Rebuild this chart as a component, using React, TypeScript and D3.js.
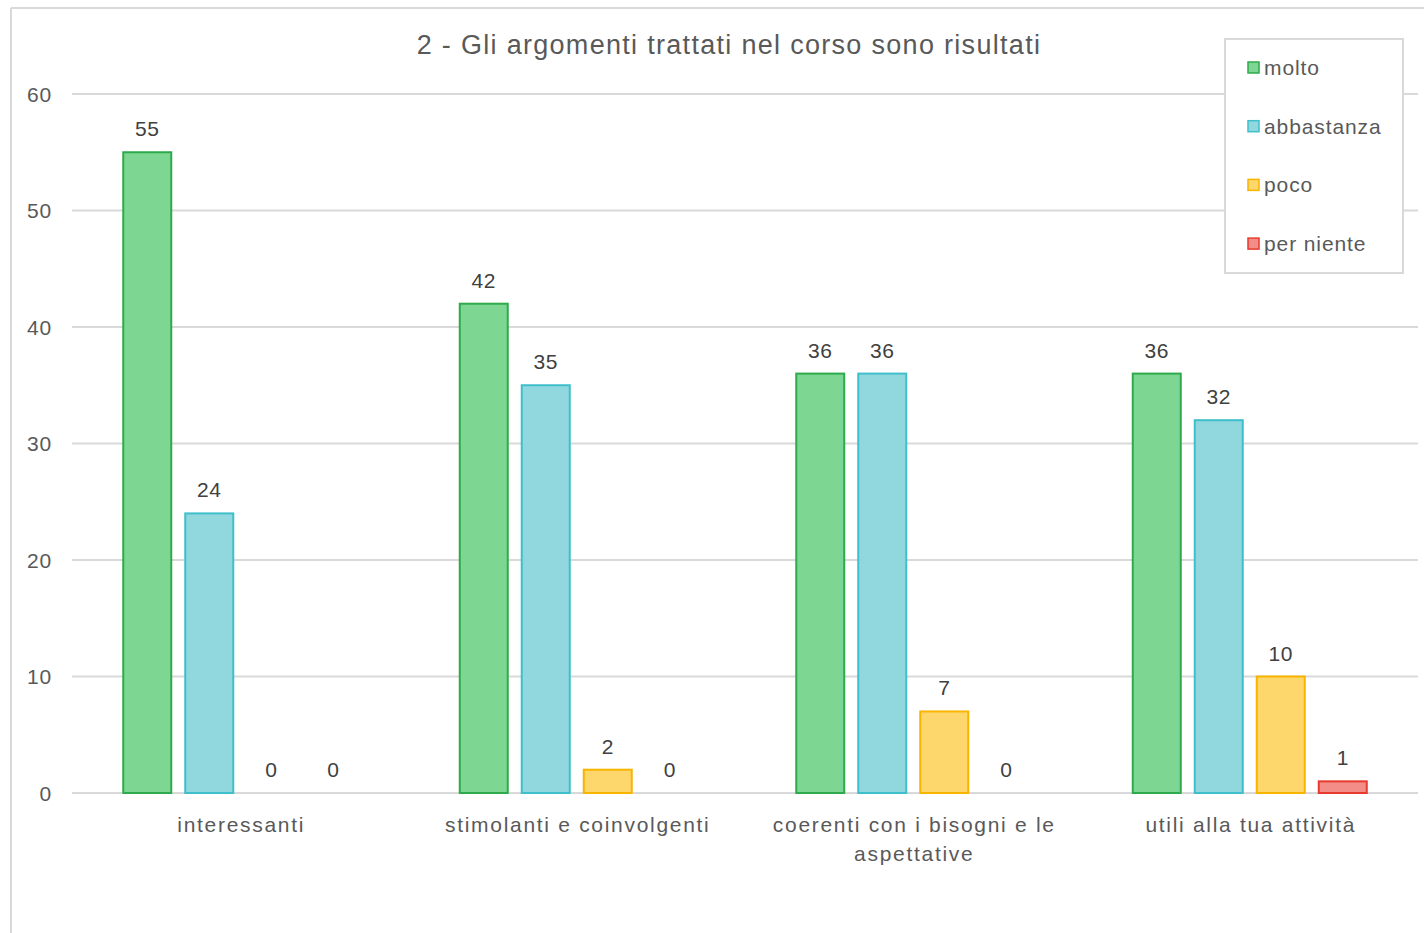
import React from "react";
import * as d3 from "d3";

const title = "2 - Gli argomenti trattati nel corso sono risultati";
const categories = [
  ["interessanti"],
  ["stimolanti e coinvolgenti"],
  ["coerenti con i bisogni e le", "aspettative"],
  ["utili alla tua attività"],
];
const seriesNames = ["molto", "abbastanza", "poco", "per niente"];
const molto = [55, 42, 36, 36];
const abbastanza = [24, 35, 36, 32];
const poco = [0, 2, 7, 10];
const perNiente = [0, 0, 0, 1];
const seriesValues = [molto, abbastanza, poco, perNiente];
const fills = ["#7dd792", "#91d8de", "#fdd66c", "#f28d87"];
const strokes = ["#2eaa4c", "#3fbfcb", "#f7b500", "#e8392f"];
const yTicks = [0, 10, 20, 30, 40, 50, 60];

const W = 1424;
const H = 933;
const font = "'Liberation Sans', Arial, sans-serif";
const textColor = "#595959";
const gridColor = "#d9d9d9";

export default function App() {
  const y = d3.scaleLinear().domain([0, 60]).range([793, 94]);
  const x = d3
    .scaleBand<number>()
    .domain(d3.range(categories.length))
    .range([72, 1418])
    .padding(0);
  const inner = d3
    .scaleBand<number>()
    .domain(d3.range(seriesNames.length))
    .range([-124, 124])
    .paddingInner(14 / 62)
    .paddingOuter(7 / 62);

  return (
    <div style={{ position: "fixed", left: 0, top: 0 }}>
      <svg width={W} height={H} style={{ display: "block", background: "#fff" }}>
        {/* chart frame */}
        <line x1={11} y1={8} x2={W} y2={8} stroke={gridColor} strokeWidth={2} />
        <line x1={11} y1={8} x2={11} y2={H} stroke={gridColor} strokeWidth={2} />

        <text
          x={729}
          y={54}
          textAnchor="middle"
          fontFamily={font}
          fontSize={27}
          letterSpacing={1.3}
          fill={textColor}
        >
          {title}
        </text>

        {/* gridlines and y-axis labels */}
        {yTicks.map((t) => (
          <g key={t}>
            <line
              x1={72}
              x2={1418}
              y1={y(t)}
              y2={y(t)}
              stroke={gridColor}
              strokeWidth={2}
            />
            <text
              x={52}
              y={y(t) + 7.5}
              textAnchor="end"
              fontFamily={font}
              fontSize={21}
              letterSpacing={0.8}
              fill={textColor}
            >
              {t}
            </text>
          </g>
        ))}

        {/* bars and value labels */}
        {categories.map((cat, ci) => {
          const cx = (x(ci) as number) + x.bandwidth() / 2;
          return (
            <g key={ci}>
              {seriesValues.map((vals, si) => {
                const v = vals[ci];
                const bx = cx + (inner(si) as number);
                const bw = inner.bandwidth();
                return (
                  <g key={si}>
                    {v > 0 && (
                      <rect
                        x={bx}
                        y={y(v)}
                        width={bw}
                        height={y(0) - y(v)}
                        fill={fills[si]}
                        stroke={strokes[si]}
                        strokeWidth={2}
                      />
                    )}
                    <text
                      x={bx + bw / 2}
                      y={y(v) - 16}
                      textAnchor="middle"
                      fontFamily={font}
                      fontSize={21}
                      letterSpacing={0.5}
                      fill="#404040"
                    >
                      {v}
                    </text>
                  </g>
                );
              })}
              {cat.map((line, li) => (
                <text
                  key={li}
                  x={cx + 1}
                  y={832 + li * 29}
                  textAnchor="middle"
                  fontFamily={font}
                  fontSize={21}
                  letterSpacing={1.7}
                  fill={textColor}
                >
                  {line}
                </text>
              ))}
            </g>
          );
        })}

        {/* legend */}
        <rect
          x={1225}
          y={39}
          width={178}
          height={234}
          fill="#fff"
          stroke={gridColor}
          strokeWidth={2}
        />
        {seriesNames.map((name, si) => {
          const ly = 68 + si * 58.7;
          return (
            <g key={name}>
              <rect
                x={1248}
                y={ly - 6}
                width={11}
                height={11}
                fill={fills[si]}
                stroke={strokes[si]}
                strokeWidth={1.5}
              />
              <text
                x={1264}
                y={ly + 7}
                fontFamily={font}
                fontSize={21}
                letterSpacing={0.9}
                fill={textColor}
              >
                {name}
              </text>
            </g>
          );
        })}
      </svg>
    </div>
  );
}
